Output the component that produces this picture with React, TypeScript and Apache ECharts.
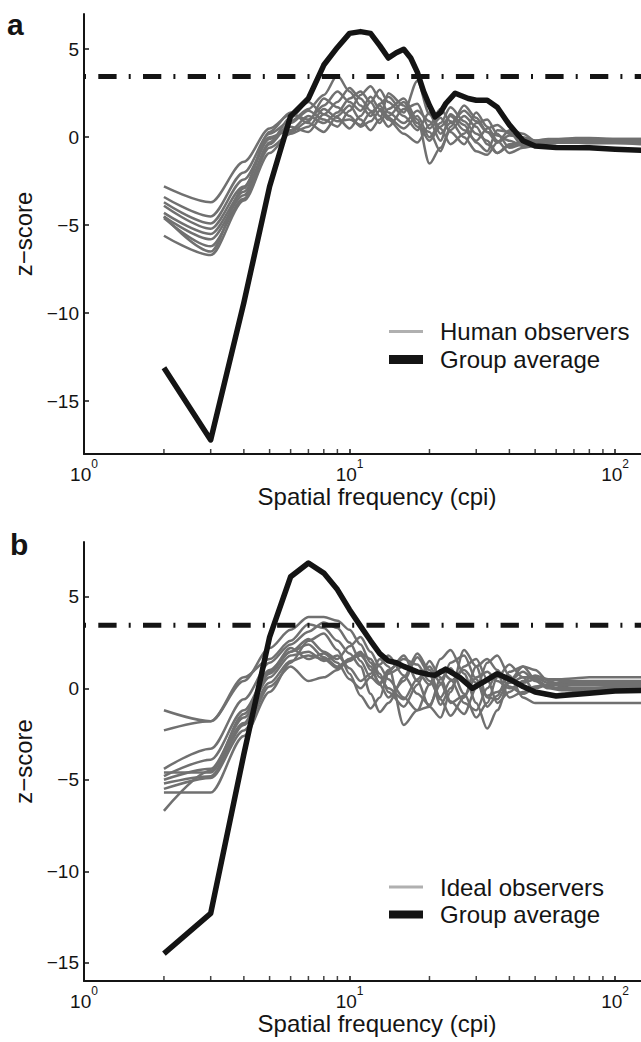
import React, { useEffect, useRef } from "react";
import * as echarts from "echarts";

const FONT = '"Liberation Sans", Arial, Helvetica, sans-serif';
const INK = "#141414";
const GRAY = "#707070";
const LEGEND_GRAY = "#b0b0b0";

// Frequencies (cpi) at which the individual observer curves are sampled
const freqGrid = [2, 3, 4, 5, 6, 7, 8, 9, 10, 11, 12, 13, 14, 16, 18, 20, 22, 24, 27, 30, 33, 36, 40, 45, 50, 56, 63, 71, 80, 100, 128];

// Panel a: human observers (z-scores)
const human1 = [-2.8, -3.7, -1.4, 0.5, 1.3, 1.0, 1.8, 2.6, 2.0, 1.5, 2.3, 1.6, 1.2, 2.0, 0.8, -0.2, 0.6, 1.2, 0.4, -0.2, 0.5, 0.7, 0.2, -0.1, -0.2, -0.1, -0.1, -0.05, -0.05, -0.1, -0.1];
const human2 = [-3.4, -4.5, -2.0, 0.2, 0.9, 1.6, 2.4, 3.5, 2.6, 1.8, 1.2, 1.9, 2.3, 1.4, 3.2, 1.3, 0.2, 0.8, 1.5, 0.9, 0.3, -0.3, 0.1, 0.0, -0.2, -0.15, -0.1, -0.1, -0.1, -0.1, -0.1];
const human3 = [-3.7, -4.9, -2.4, -0.1, 0.6, 0.3, 1.3, 2.0, 2.8, 2.2, 1.5, 0.8, 1.6, 2.2, 1.0, -1.5, -0.6, 0.4, 1.2, 0.6, -0.4, -0.9, -0.5, -0.2, -0.3, -0.2, -0.15, -0.15, -0.1, -0.15, -0.15];
const human4 = [-3.9, -5.2, -2.8, 0.0, 0.4, 1.2, 0.8, 1.4, 2.2, 2.6, 2.0, 1.2, 0.6, 1.6, 1.9, 0.5, 1.1, 0.3, -0.4, 0.8, 1.0, 0.2, -0.6, -0.4, -0.3, -0.25, -0.2, -0.2, -0.2, -0.2, -0.2];
const human5 = [-4.3, -5.5, -3.1, -0.4, 0.8, 1.5, 1.0, 0.6, 1.5, 2.4, 2.9, 2.2, 1.4, 0.8, 1.5, 0.9, -0.2, 1.3, 0.7, -0.3, -0.8, 0.4, 0.3, -0.5, -0.4, -0.3, -0.25, -0.2, -0.2, -0.2, -0.2];
const human6 = [-4.5, -5.8, -3.3, -0.6, 0.2, 0.6, 1.6, 1.1, 0.5, 1.2, 2.0, 2.7, 2.0, 1.2, 0.4, 1.4, 0.5, -0.4, 0.2, 1.4, 0.6, -0.2, -0.9, -0.6, -0.5, -0.35, -0.3, -0.3, -0.25, -0.25, -0.25];
const human7 = [-4.6, -6.2, -3.5, -0.3, 1.1, 2.0, 1.3, 0.9, 1.0, 0.7, 1.4, 1.8, 1.1, 0.5, 1.2, 0.0, 0.8, 1.7, 0.9, 0.2, -0.2, -0.9, -0.4, -0.3, -0.3, -0.3, -0.3, -0.3, -0.3, -0.3, -0.3];
const human8 = [-4.5, -6.5, -2.9, 0.3, 1.4, 0.8, 0.3, 1.2, 1.8, 1.0, 0.4, 1.0, 2.5, 1.8, 0.6, 0.3, -0.8, 0.6, 1.8, 1.1, 0.3, 0.1, -0.2, -0.5, -0.4, -0.3, -0.3, -0.25, -0.2, -0.2, -0.2];
const human9 = [-5.6, -6.7, -3.6, -0.9, 0.3, 0.9, 2.2, 1.7, 1.2, 0.6, 0.9, 1.5, 1.0, 0.2, -0.3, 0.7, 1.6, 0.9, 0.0, -0.8, -1.0, -0.3, 0.4, 0.2, -0.2, -0.3, -0.3, -0.3, -0.35, -0.35, -0.4];
const humanLines = [human1, human2, human3, human4, human5, human6, human7, human8, human9];

// Panel a: group average
const avgFreqA = [2, 3, 4, 5, 6, 7, 8, 9, 10, 11, 12, 13, 14, 15, 16, 17, 18, 19, 20, 21, 22, 23, 25, 28, 30, 33, 36, 40, 45, 50, 60, 80, 100, 128];
const avgA = [-13.1, -17.2, -9.4, -2.8, 1.2, 2.2, 4.1, 5.1, 5.9, 6.0, 5.9, 5.2, 4.5, 4.8, 5.0, 4.5, 3.7, 2.6, 1.8, 1.15, 1.4, 1.9, 2.5, 2.2, 2.1, 2.1, 1.7, 0.7, -0.2, -0.5, -0.58, -0.6, -0.68, -0.75];

// Panel b: ideal observers (z-scores)
const ideal1 = [-1.2, -1.8, 0.4, 2.2, 3.2, 3.9, 3.9, 3.7, 3.2, 2.4, 1.4, 0.6, 0.0, -0.6, 0.5, 1.2, 0.3, -0.8, -0.4, 0.6, 0.9, 0.4, 0.0, 0.3, 0.5, 0.5, 0.5, 0.55, 0.6, 0.6, 0.6];
const ideal2 = [-2.3, -1.8, 0.6, 1.6, 2.6, 3.5, 3.3, 2.6, 1.9, 1.2, -0.3, -1.3, -0.8, 0.6, 1.9, 1.0, -0.6, -1.5, -0.5, 1.2, 1.6, 1.0, 0.1, -0.3, 0.0, 0.2, 0.3, 0.3, 0.3, 0.3, 0.3];
const ideal3 = [-4.4, -3.3, -0.6, 1.4, 2.4, 3.1, 3.6, 3.3, 2.5, 1.5, 0.6, 0.2, 0.9, 1.8, 0.4, -1.0, -1.6, -0.2, 2.1, 1.2, -0.5, -0.6, 0.4, 1.2, 1.0, 0.4, 0.2, 0.2, 0.2, 0.2, 0.2];
const ideal4 = [-4.8, -3.9, -1.2, 1.0, 2.0, 2.7, 2.0, 1.6, 2.3, 2.8, 2.0, 1.2, 0.5, -0.5, -1.2, 0.2, 1.6, 2.1, 0.8, -0.8, -2.2, -1.2, 0.4, 0.9, 0.4, 0.0, -0.1, -0.1, 0.0, 0.1, 0.1];
const ideal5 = [-5.0, -4.4, -1.6, 0.6, 1.8, 2.0, 1.5, 1.8, 1.1, 0.4, 0.8, 1.6, 1.2, -2.0, -1.2, -1.0, 0.5, 1.1, -0.3, -1.6, -0.8, 0.6, 1.3, 0.6, -0.2, -0.4, -0.3, -0.2, -0.1, -0.1, -0.1];
const ideal6 = [-5.2, -4.8, -2.0, 0.3, 1.5, 1.8, 1.6, 1.1, 1.5, 1.9, 1.6, 0.8, -0.2, -1.0, 0.2, 1.5, 0.6, -0.7, -1.4, 0.0, 1.4, 1.8, 0.7, -0.5, -0.8, -0.8, -0.8, -0.8, -0.8, -0.8, -0.8];
const ideal7 = [-5.5, -4.9, -2.3, 0.1, 1.2, 0.4, 0.6, 1.0, 1.6, 2.0, 1.0, 0.3, 1.0, 1.6, 1.3, 0.4, -0.5, 0.4, 1.0, 0.3, -0.4, -0.2, 0.3, 0.6, 0.6, 0.3, 0.1, 0.0, 0.0, 0.0, 0.0];
const ideal8 = [-5.7, -5.7, -2.6, -0.2, 1.4, 2.6, 3.0, 2.1, 0.8, -0.4, -1.1, -0.5, 0.8, 1.2, 0.9, 0.2, 1.0, 0.5, -0.8, -1.2, 0.0, 0.8, -0.5, -0.2, 0.1, 0.2, 0.2, 0.15, 0.15, 0.15, 0.15];
const ideal9 = [-6.7, -4.5, -1.9, 0.9, 2.2, 1.6, 1.9, 1.4, 0.5, 0.0, 0.6, 1.3, 1.8, 0.7, -0.3, -0.9, 0.2, 1.4, 1.8, 0.5, -1.0, -0.4, 0.9, 1.2, 0.5, 0.1, 0.0, 0.0, 0.0, 0.0, 0.0];
const ideal10 = [-4.6, -4.6, -1.4, 0.8, 2.0, 2.4, 1.7, 1.2, 1.6, 1.8, 1.2, 0.2, -0.5, 0.4, 1.7, 0.8, -0.9, 0.0, 1.2, 1.6, 0.5, -0.8, -0.2, 0.4, 0.7, 0.5, 0.4, 0.4, 0.4, 0.4, 0.4];
const idealLines = [ideal1, ideal2, ideal3, ideal4, ideal5, ideal6, ideal7, ideal8, ideal9, ideal10];

// Panel b: group average
const avgFreqB = [2, 3, 4, 5, 6, 7, 8, 9, 10, 11, 12, 13, 14, 15, 16, 18, 20, 21, 23, 24, 26, 29, 32, 36, 40, 45, 50, 60, 80, 100, 128, 160];
const avgB = [-14.5, -12.3, -3.6, 2.8, 6.1, 6.85, 6.3, 5.4, 4.3, 3.4, 2.6, 1.9, 1.5, 1.4, 1.2, 0.9, 0.75, 0.72, 1.05, 0.9, 0.6, 0.0, 0.35, 0.8, 0.5, 0.1, -0.2, -0.42, -0.27, -0.15, -0.12, -0.1];

// Significance threshold and axis ranges
const thresholdA = 3.45;
const thresholdB = 3.45;
const thresholdSpan = [1, 1000];
const yRangeA = [-18, 7];
const yRangeB = [-16, 8];
const xRange = [1, 161];
const minorTickFreqs = [2, 3, 4, 5, 6, 7, 8, 9, 20, 30, 40, 50, 60, 70, 80, 90];

const xLabelFormatter = (v: number) => {
  const l = Math.log10(v);
  const e = Math.round(l);
  return Math.abs(l - e) < 1e-6 ? `{b|10}{s|${e}}` : "";
};

const makeXAxis = (gridIndex: number) => ({
  type: "log",
  logBase: 10,
  gridIndex,
  min: xRange[0],
  max: xRange[1],
  axisLine: { show: true, onZero: false, lineStyle: { color: INK, width: 2 } },
  axisTick: { show: true, inside: true, length: 5, lineStyle: { color: INK, width: 1.5 } },
  splitLine: { show: false },
  minorTick: { show: false },
  axisLabel: {
    formatter: xLabelFormatter,
    margin: 4,
    showMaxLabel: false,
    rich: {
      b: { fontSize: 19, fontFamily: FONT, color: INK, padding: [7, 0, 0, 0] },
      s: { fontSize: 12, fontFamily: FONT, color: INK, verticalAlign: "top" },
    },
  },
  name: "Spatial frequency (cpi)",
  nameLocation: "middle",
  nameGap: 30,
  nameTextStyle: { fontSize: 24, fontFamily: FONT, color: INK },
});

const makeYAxis = (gridIndex: number, range: number[]) => ({
  type: "value",
  gridIndex,
  min: range[0],
  max: range[1],
  axisLine: { show: true, onZero: false, lineStyle: { color: INK, width: 2 } },
  axisTick: { show: true, inside: true, length: 5, lineStyle: { color: INK, width: 1.5 } },
  splitLine: { show: false },
  axisLabel: {
    formatter: (v: number) => (v < 0 ? "\u2212" + Math.abs(v) : String(v)),
    fontSize: 19,
    fontFamily: FONT,
    color: INK,
    margin: 5,
    showMinLabel: false,
    showMaxLabel: false,
  },
  name: "z\u2212score",
  nameLocation: "middle",
  nameGap: 43,
  nameTextStyle: { fontSize: 24, fontFamily: FONT, color: INK },
});

const grayLine = (name: string, vals: number[], idx: number) => ({
  type: "line",
  name,
  xAxisIndex: idx,
  yAxisIndex: idx,
  data: freqGrid.map((f, i) => [f, vals[i]]),
  symbol: "none",
  smooth: 0.3,
  smoothMonotone: "x",
  silent: true,
  z: 2,
  lineStyle: { color: GRAY, width: 2.5, join: "round" },
  itemStyle: { color: GRAY },
});

const avgLine = (freqs: number[], vals: number[], idx: number) => ({
  type: "line",
  name: "Group average",
  xAxisIndex: idx,
  yAxisIndex: idx,
  data: freqs.map((f, i) => [f, vals[i]]),
  symbol: "none",
  silent: true,
  z: 4,
  lineStyle: { color: INK, width: 5.5, join: "round", cap: "butt" },
  itemStyle: { color: INK },
});

const thresholdLine = (thr: number, idx: number) => ({
  type: "line",
  name: "threshold",
  xAxisIndex: idx,
  yAxisIndex: idx,
  data: thresholdSpan.map((f) => [f, thr]),
  symbol: "none",
  silent: true,
  z: 3,
  lineStyle: { color: INK, width: 5, type: [2, 12.3, 18.3, 12.1], cap: "butt" },
});

const minorTicks = (idx: number, yMin: number) => ({
  type: "scatter",
  name: "minor",
  xAxisIndex: idx,
  yAxisIndex: idx,
  data: minorTickFreqs.map((f) => [f, yMin]),
  symbol: "rect",
  symbolSize: [1.5, 4],
  symbolOffset: [0, -3],
  silent: true,
  z: 5,
  itemStyle: { color: INK },
});

const legendCommon = {
  orient: "vertical",
  padding: 0,
  itemWidth: 34,
  selectedMode: false,
  textStyle: { fontSize: 24, fontFamily: FONT, color: INK, padding: [0, 0, 0, 12] },
};

export default function App() {
  const ref = useRef<HTMLDivElement>(null);
  useEffect(() => {
    if (!ref.current) return;
    const chart = echarts.init(ref.current, null, { renderer: "svg" });
    const series: any[] = [];
    humanLines.forEach((v) => series.push(grayLine("Human observers", v, 0)));
    series.push(thresholdLine(thresholdA, 0));
    series.push(avgLine(avgFreqA, avgA, 0));
    series.push(minorTicks(0, yRangeA[0]));
    idealLines.forEach((v) => series.push(grayLine("Ideal observers", v, 1)));
    series.push(thresholdLine(thresholdB, 1));
    series.push(avgLine(avgFreqB, avgB, 1));
    series.push(minorTicks(1, yRangeB[0]));

    chart.setOption({
      animation: false,
      backgroundColor: "#ffffff",
      textStyle: { fontFamily: FONT },
      grid: [
        { left: 84, top: 14, width: 586, height: 440, outerBoundsMode: "none", containLabel: false },
        { left: 84, top: 542, width: 586, height: 439, outerBoundsMode: "none", containLabel: false },
      ],
      xAxis: [makeXAxis(0), makeXAxis(1)],
      yAxis: [makeYAxis(0, yRangeA), makeYAxis(1, yRangeB)],
      legend: [
        { ...legendCommon, left: 389, top: 319.5, itemHeight: 3, data: [{ name: "Human observers", icon: "rect", itemStyle: { color: LEGEND_GRAY } }] },
        { ...legendCommon, left: 389, top: 347.5, itemHeight: 9, data: [{ name: "Group average", icon: "rect", itemStyle: { color: INK } }] },
        { ...legendCommon, left: 389, top: 875, itemHeight: 3, data: [{ name: "Ideal observers", icon: "rect", itemStyle: { color: LEGEND_GRAY } }] },
        { ...legendCommon, left: 389, top: 902.5, itemHeight: 8, data: [{ name: "Group average", icon: "rect", itemStyle: { color: INK } }] },
      ],
      graphic: [
        { type: "text", left: 7, top: 9, style: { text: "a", font: `bold 30px ${FONT}`, fill: INK } },
        { type: "text", left: 10, top: 529, style: { text: "b", font: `bold 30px ${FONT}`, fill: INK } },
      ],
      series,
    });
    return () => chart.dispose();
  }, []);
  return <div ref={ref} style={{ position: "absolute", left: 0, top: 0, width: 641, height: 1042 }} />;
}
